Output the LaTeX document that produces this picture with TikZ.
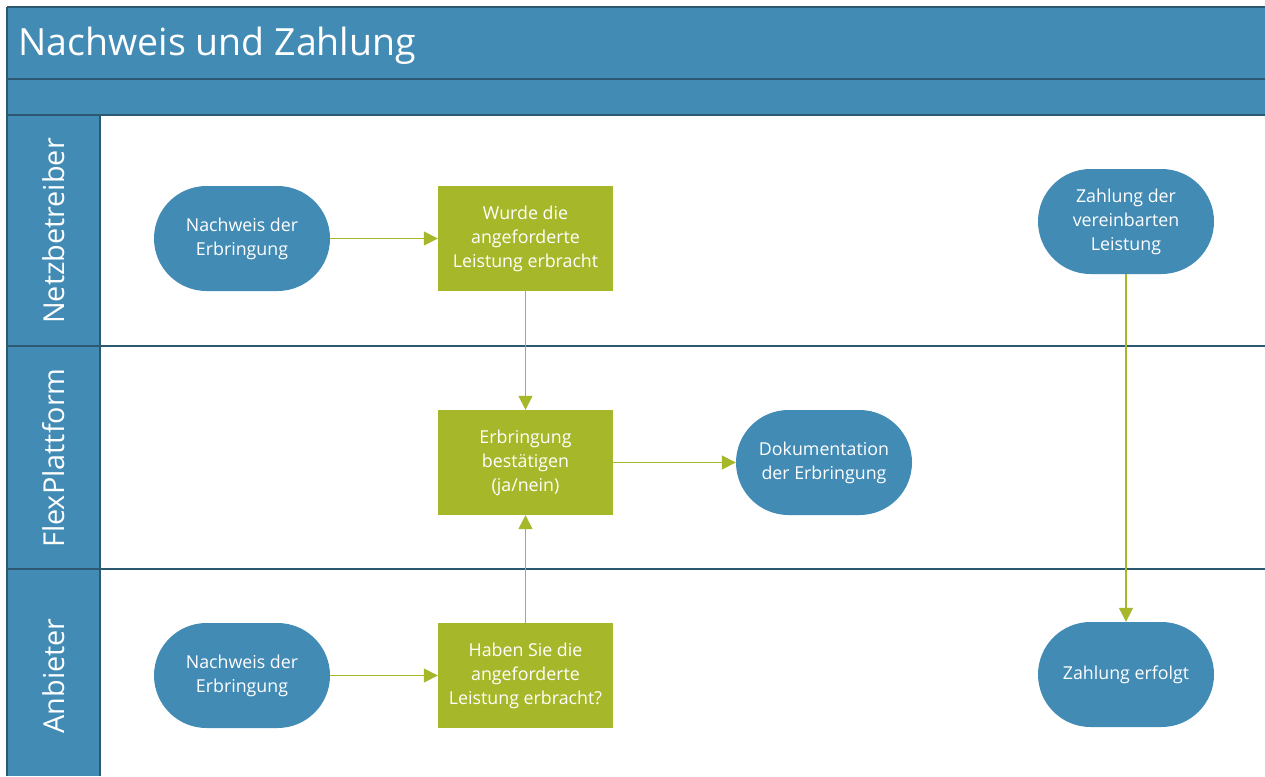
\documentclass[tikz,border=0pt]{standalone}
\usepackage{fontspec}
\setmainfont{Open Sans}
\usetikzlibrary{arrows.meta}
\definecolor{laneblue}{RGB}{66,139,181}
\definecolor{stepgreen}{RGB}{166,184,42}
\definecolor{linegreen}{RGB}{166,184,42}
\definecolor{framedark}{RGB}{44,88,112}
\tikzset{
  frameline/.style={draw=framedark,line width=2pt},
  terminal/.style={fill=laneblue,rectangle,rounded corners=52.5pt,minimum width=176pt,minimum height=105pt,
    text=white,align=center,font=\fontsize{17.8}{24}\selectfont,inner sep=0pt},
  stepbox/.style={fill=stepgreen,rectangle,minimum width=175pt,minimum height=105pt,
    text=white,align=center,font=\fontsize{17.8}{24}\selectfont,inner sep=0pt},
  flow/.style={draw=linegreen,line width=1.5pt,-{Triangle[width=14pt,length=14pt]}},
  lanelabel/.style={rotate=90,text=white,font=\fontsize{28.8}{32}\selectfont},
}
\begin{document}
\begin{tikzpicture}[x=1pt,y=-1pt]
\useasboundingbox (0,0) rectangle (1265,776);
% header bands and lane label column
\fill[laneblue] (7,7) rectangle (1265,115);
\fill[laneblue] (7,115) rectangle (100,776);
\draw[frameline] (7,7) -- (1265,7);
\draw[frameline] (7,79) -- (1265,79);
\draw[frameline] (7,115) -- (1265,115);
\draw[frameline] (7,7) -- (7,776);
\draw[frameline] (100,115) -- (100,776);
\draw[frameline] (7,346) -- (1265,346);
\draw[frameline] (7,569) -- (1265,569);
\node[anchor=west,text=white,font=\fontsize{37.5}{44}\selectfont] (title) at (15,45.5) {Nachweis und Zahlung};
% lane labels
\node[lanelabel] (laneN) at (54,231) {Netzbetreiber};
\node[lanelabel] (laneF) at (54,458) {FlexPlattform};
\node[lanelabel] (laneA) at (54,676) {Anbieter};
% process nodes
\node[terminal] (nw1) at (242,238.5) {Nachweis der\\Erbringung};
\node[stepbox] (q1) at (525.5,238.5) {Wurde die\\angeforderte\\Leistung erbracht};
\node[terminal] (pay) at (1126,221.5) {Zahlung der\\vereinbarten\\Leistung};
\node[stepbox] (conf) at (525.5,462.5) {Erbringung\\bestätigen\\(ja/nein)};
\node[terminal] (doc) at (824,462.5) {Dokumentation\\der Erbringung};
\node[terminal] (nw2) at (242,675.5) {Nachweis der\\Erbringung};
\node[stepbox] (q2) at (525.5,675.5) {Haben Sie die\\angeforderte\\Leistung erbracht?};
\node[terminal] (paid) at (1126,674.5) {Zahlung erfolgt};
% connectors
\draw[flow] (nw1) -- (q1);
\draw[flow] (q1) -- (conf);
\draw[flow] (q2) -- (conf);
\draw[flow] (conf) -- (doc);
\draw[flow] (nw2) -- (q2);
\draw[flow] (pay) -- (paid);
\end{tikzpicture}
\end{document}
